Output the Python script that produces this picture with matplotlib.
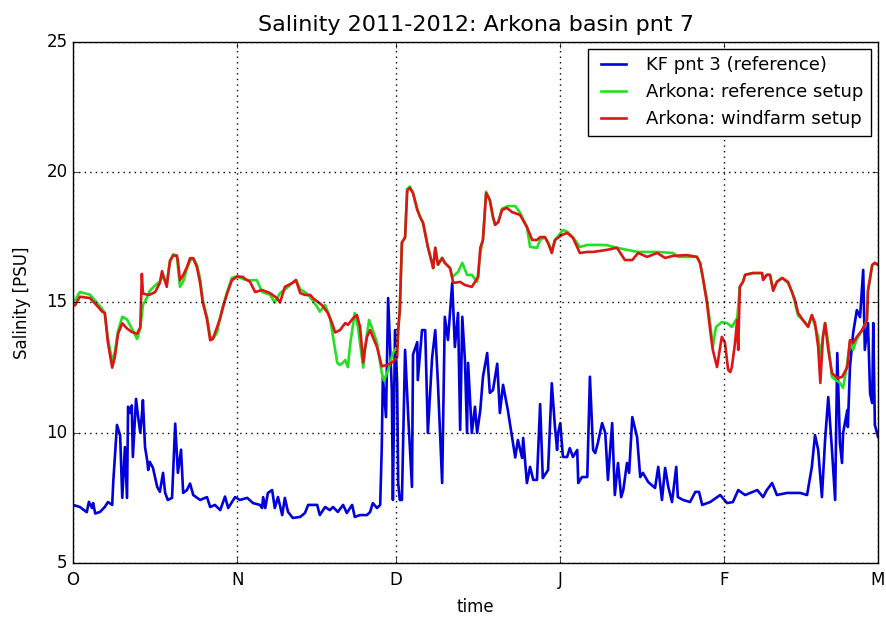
import numpy as np
import matplotlib
matplotlib.use("Agg")
import matplotlib.pyplot as plt
import matplotlib.dates as mdates
from matplotlib import ticker

plt.style.use("classic")

# days after 2011-10-01, salinity in PSU
ref_days = [0.0, 1.3, 2.6, 3.0, 3.6, 3.8, 4.2, 5.1, 6.0, 6.6, 7.4, 7.6, 8.3, 8.9, 9.3, 9.8, 10.2, 10.4, 10.8, 11.1,
            11.3, 11.9, 12.3, 12.7, 13.0, 13.2, 13.6, 14.0, 14.2, 14.5, 15.1, 15.9, 16.4, 17.0, 17.4, 17.9, 18.7, 19.3,
            19.8, 20.4, 20.8, 21.5, 22.1, 22.7, 24.0, 25.3, 25.9, 26.8, 27.8, 28.7, 29.3, 30.6, 31.5, 32.9, 34.0, 35.3,
            35.7, 35.9, 36.3, 36.8, 37.6, 38.1, 38.7, 39.5, 40.0, 40.6, 41.5, 42.9, 43.8, 44.4, 46.1, 46.6, 47.6, 48.5,
            49.1, 50.0, 51.0, 51.7, 52.7, 53.2, 54.2, 55.5, 56.1, 56.6, 57.4, 58.0, 58.3, 58.5, 59.1, 59.5, 60.2, 60.4,
            60.8, 61.2, 61.4, 61.7, 62.1, 62.7, 63.3, 64.0, 64.2, 65.0, 65.1, 65.9, 66.5, 67.0, 67.8, 68.4, 68.9, 69.7,
            70.2, 70.8, 71.6, 72.1, 72.7, 73.1, 73.5, 74.0, 74.4, 74.6, 75.3, 75.9, 76.3, 76.9, 77.4, 78.2, 78.7, 79.3,
            80.1, 80.6, 81.2, 82.1, 82.9, 83.5, 84.0, 84.8, 85.0, 85.7, 86.3, 86.9, 87.6, 88.2, 88.7, 89.7, 90.4, 91.0,
            91.4, 91.6, 92.0, 92.5, 93.3, 93.8, 94.4, 95.2, 95.4, 96.1, 97.1, 97.6, 98.2, 98.6, 99.1, 99.9, 100.5,
            101.0, 101.8, 102.3, 102.9, 103.5, 103.9, 104.6, 105.0, 105.6, 106.5, 107.1, 107.6, 108.6, 109.9, 110.5,
            111.2, 111.8, 112.4, 113.1, 113.9, 114.2, 115.2, 116.5, 117.5, 118.2, 118.8, 120.3, 122.2, 123.5, 124.6,
            125.6, 126.9, 129.2, 130.3, 131.0, 132.0, 132.9, 134.8, 137.3, 138.6, 139.5, 140.1, 140.7, 141.4, 142.0,
            142.6, 143.3, 143.9, 144.3, 144.8, 145.2, 145.4, 146.2, 146.3, 146.7, 147.3, 148.0, 148.6, 149.2, 149.5,
            150.1, 150.5, 150.9, 151.1, 151.4, 152.0]
ref_sal = [7.23, 7.15, 6.95, 7.35, 7.11, 7.3, 6.9, 6.96, 7.15, 7.34, 7.23, 8.11, 10.3, 9.9, 7.5, 9.45, 7.5, 11.0, 10.76,
           11.05, 9.07, 11.3, 10.6, 10.0, 10.68, 11.25, 9.45, 8.95, 8.57, 8.88, 8.65, 7.92, 7.73, 8.46, 7.69, 7.42, 7.5,
           10.35, 8.46, 9.35, 7.69, 7.8, 8.05, 7.61, 7.42, 7.53, 7.15, 7.23, 7.03, 7.55, 7.11, 7.53, 7.42, 7.5, 7.3,
           7.23, 7.11, 7.53, 7.11, 7.69, 7.8, 7.11, 7.53, 6.84, 7.5, 6.96, 6.73, 6.77, 6.92, 7.23, 7.23, 6.84, 7.15,
           7.03, 7.15, 6.96, 7.23, 6.92, 7.23, 6.77, 6.84, 6.84, 6.96, 7.3, 7.11, 7.23, 9.45, 12.14, 10.6, 15.17, 11.64,
           7.42, 13.94, 11.91, 8.07, 7.42, 7.42, 13.18, 10.6, 7.92, 13.0, 13.48, 12.02, 13.94, 13.94, 9.99, 12.87,
           13.94, 11.91, 8.07, 14.45, 13.56, 15.75, 13.29, 14.6, 10.11, 14.45, 12.79, 9.99, 12.68, 9.99, 11.0, 9.99,
           10.87, 12.14, 13.06, 11.53, 11.64, 12.65, 10.76, 11.84, 10.87, 9.84, 9.05, 9.72, 9.03, 9.8, 8.07, 8.69,
           8.19, 8.19, 11.1, 8.26, 8.57, 11.9, 10.22, 9.34, 9.99, 10.37, 9.07, 9.07, 9.41, 9.07, 9.34, 8.07, 8.3, 8.3,
           12.15, 9.34, 9.22, 9.61, 10.37, 9.99, 8.19, 10.37, 7.61, 8.84, 7.53, 7.8, 8.84, 8.46, 10.6, 9.84, 8.3, 8.46,
           8.11, 7.88, 8.69, 7.42, 8.65, 7.92, 7.34, 8.69, 7.53, 7.42, 7.34, 7.73, 7.73, 7.23, 7.34, 7.61, 7.3, 7.34,
           7.8, 7.61, 7.8, 7.53, 7.8, 8.07, 7.61, 7.69, 7.69, 7.61, 8.69, 9.91, 9.34, 7.53, 9.72, 11.37, 9.34, 7.42,
           13.06, 9.61, 8.84, 9.99, 10.87, 10.22, 12.52, 13.83, 14.71, 14.44, 16.25, 13.18, 14.21, 11.5, 11.14, 14.21,
           10.3, 9.84]

base_days = [0.4, 1.3, 3.2, 4.7, 5.5, 6.0, 6.6, 7.4, 7.9, 8.5, 9.3, 10.2, 11.1, 12.1, 12.7, 13.2, 14.0, 14.5, 15.5,
             16.4, 16.8, 17.7, 18.3, 18.9, 19.6, 19.8, 20.2, 20.8, 21.5, 22.1, 22.7, 23.4, 24.0, 24.5, 25.3, 25.9,
             26.4, 27.2, 27.8, 28.3, 29.1, 30.0, 31.0, 32.1, 33.4, 34.7, 35.7, 37.2, 38.1, 39.1, 40.0, 42.1, 42.9,
             43.8, 44.8, 46.1, 46.6, 47.6, 48.5, 49.1, 49.9, 50.4, 51.0, 51.4, 51.9, 52.4, 53.2, 53.8, 54.8, 55.1,
             55.9, 56.6, 57.4, 58.3, 58.7, 59.5, 60.4, 61.2, 61.4, 61.7, 62.1, 62.7, 63.1, 63.6, 64.2, 65.0, 65.5,
             66.1, 67.0, 67.8, 68.0, 68.4, 68.9, 69.7, 70.2, 71.2, 71.6, 72.7, 73.5, 74.4, 75.3, 76.3, 76.9, 77.4,
             78.0, 78.7, 79.3, 79.7, 80.3, 81.0, 82.1, 83.5, 84.4, 85.7, 86.3, 87.6, 88.2, 89.1, 89.7, 90.4, 91.0,
             92.5, 93.3, 94.4, 95.7, 97.1, 99.1, 100.8, 102.7, 104.6, 106.7, 110.3, 113.3, 114.2, 117.8, 118.4, 118.9,
             119.7, 120.3, 120.8, 121.4, 122.5, 123.5, 124.4, 125.4, 125.6, 125.9, 126.5, 126.9, 128.4, 130.1, 130.3,
             131.0, 131.6, 132.2, 132.9, 133.9, 135.0, 135.8, 136.3, 136.9, 137.8, 138.8, 139.5, 140.1, 140.7, 141.1,
             141.6, 142.0, 142.6, 143.3, 144.8, 145.4, 146.2, 146.7, 147.3, 148.0, 149.0, 149.9, 150.1, 150.9, 151.4,
             152.0]
base_sal = [15.1, 15.4, 15.3, 14.95, 14.75, 14.6, 13.6, 12.75, 13.1, 13.9, 14.45, 14.35, 14.0, 13.6, 14.0, 14.9, 15.2,
            15.45, 15.65, 15.8, 16.0, 15.75, 16.55, 16.85, 16.8, 16.4, 15.6, 15.8, 16.3, 16.6, 16.7, 16.45, 15.9, 15.1,
            14.45, 13.7, 13.6, 13.85, 14.45, 14.85, 15.4, 15.95, 16.0, 15.9, 15.85, 15.86, 15.4, 15.3, 15.0, 15.36,
            15.5, 15.86, 15.5, 15.4, 15.2, 14.83, 14.65, 14.9, 14.44, 13.68, 12.68, 12.6, 12.7, 12.79, 12.52, 13.5,
            14.6, 14.06, 12.5, 13.18, 14.33, 13.94, 13.45, 12.3, 12.0, 12.41, 13.06, 13.29, 13.94, 14.71, 17.3, 17.5,
            19.35, 19.45, 19.2, 18.6, 18.3, 18.05, 17.13, 16.5, 16.32, 17.1, 16.45, 16.71, 16.52, 16.32, 15.98, 16.17,
            16.52, 16.06, 16.06, 15.79, 16.9, 17.4, 19.25, 18.93, 18.28, 17.98, 18.09, 18.6, 18.7, 18.7, 18.45, 17.9,
            17.13, 17.1, 17.4, 17.51, 17.3, 17.0, 17.4, 17.78, 17.72, 17.5, 17.13, 17.21, 17.21, 17.2, 17.1, 17.02,
            16.94, 16.94, 16.9, 16.75, 16.75, 16.5, 15.98, 15.1, 14.21, 13.29, 14.06, 14.25, 14.21, 14.06, 14.4, 14.83,
            15.6, 15.8, 16.06, 16.13, 16.13, 15.9, 16.06, 16.06, 15.5, 15.8, 15.94, 15.75, 15.4, 15.0, 14.5, 14.33,
            14.1, 14.5, 14.1, 13.68, 12.91, 13.7, 14.21, 13.45, 12.14, 11.91, 11.72, 12.68, 13.5, 13.18, 13.6, 13.94,
            14.33, 15.45, 16.44, 16.52, 16.44]

wind_days = [0.4, 1.3, 3.2, 4.7, 5.5, 6.0, 6.6, 7.4, 7.9, 8.5, 9.3, 10.2, 11.1, 12.1, 12.7, 13.0, 13.2, 14.0, 14.5,
             15.5, 16.4, 16.8, 17.7, 18.3, 18.9, 19.6, 19.8, 20.2, 20.8, 21.5, 22.1, 22.7, 23.4, 24.0, 24.5, 25.3,
             25.9, 26.4, 27.2, 27.8, 28.3, 29.1, 30.0, 31.0, 32.1, 32.5, 33.4, 34.4, 35.7, 37.2, 38.5, 39.1, 40.0,
             41.4, 42.1, 42.9, 43.8, 44.8, 45.3, 47.0, 48.1, 48.9, 49.5, 50.4, 51.4, 51.9, 52.9, 53.6, 54.2, 54.8,
             55.1, 55.5, 56.1, 56.6, 57.4, 58.3, 59.3, 60.4, 61.2, 61.4, 61.7, 62.1, 62.7, 63.1, 63.6, 64.2, 65.0,
             65.5, 66.1, 67.0, 67.8, 68.0, 68.4, 68.9, 69.7, 70.2, 71.2, 71.8, 73.1, 74.0, 75.3, 75.9, 76.5, 76.9,
             77.4, 78.0, 78.7, 79.3, 79.7, 80.3, 81.0, 81.9, 82.9, 84.4, 85.7, 86.7, 87.6, 88.2, 89.1, 89.7, 90.4,
             91.0, 92.3, 93.3, 94.4, 95.7, 97.1, 98.2, 100.8, 102.7, 104.2, 105.6, 106.7, 108.4, 110.3, 111.8, 113.3,
             115.9, 117.8, 118.4, 118.9, 119.7, 120.3, 120.8, 121.6, 122.5, 123.1, 123.7, 124.1, 124.4, 125.0, 125.4,
             125.6, 125.9, 126.5, 126.9, 128.4, 130.1, 130.3, 131.0, 131.6, 132.2, 132.9, 133.9, 135.0, 135.8, 136.3,
             136.9, 137.8, 138.8, 139.5, 140.1, 140.7, 141.1, 141.6, 142.0, 142.6, 143.3, 144.3, 145.2, 146.2, 146.7,
             147.3, 148.0, 149.0, 149.9, 150.1, 150.9, 151.4, 152.0]
wind_sal = [14.9, 15.22, 15.17, 14.84, 14.65, 14.6, 13.45, 12.5, 12.9, 13.8, 14.2, 14.0, 13.87, 13.8, 14.05, 16.1,
            15.35, 15.3, 15.3, 15.4, 15.75, 16.2, 15.6, 16.6, 16.8, 16.8, 16.6, 15.85, 16.05, 16.35, 16.7, 16.7, 16.35,
            15.75, 15.0, 14.35, 13.55, 13.6, 14.05, 14.4, 14.8, 15.35, 15.85, 16.0, 15.98, 15.9, 15.8, 15.4, 15.48,
            15.36, 15.17, 15.0, 15.6, 15.75, 15.86, 15.36, 15.29, 15.29, 15.17, 14.9, 14.6, 14.21, 13.85, 13.94, 14.21,
            14.14, 14.4, 14.52, 14.06, 12.7, 13.18, 13.68, 13.94, 13.68, 13.29, 12.55, 12.6, 12.72, 12.91, 13.94,
            14.71, 17.3, 17.5, 19.3, 19.4, 19.2, 18.55, 18.3, 18.05, 17.13, 16.5, 16.32, 17.1, 16.45, 16.71, 16.52,
            16.32, 15.75, 15.79, 15.67, 15.6, 15.79, 15.98, 17.1, 17.4, 19.2, 18.93, 18.28, 17.98, 18.09, 18.55,
            18.63, 18.47, 18.36, 17.9, 17.4, 17.4, 17.51, 17.51, 17.28, 16.9, 17.4, 17.59, 17.67, 17.48, 16.9, 16.94,
            16.94, 17.02, 17.1, 16.63, 16.63, 16.9, 16.75, 16.9, 16.71, 16.79, 16.82, 16.75, 16.52, 15.98, 14.98,
            13.94, 13.18, 12.52, 13.68, 13.45, 12.41, 12.33, 12.52, 13.45, 14.33, 13.18, 15.6, 15.79, 16.06, 16.13,
            16.13, 15.86, 16.06, 16.06, 15.45, 15.79, 15.94, 15.79, 15.36, 15.1, 14.6, 14.33, 14.06, 14.52, 14.21,
            13.29, 11.91, 13.68, 14.21, 13.18, 12.29, 12.1, 12.14, 12.52, 13.56, 13.45, 13.68, 13.94, 14.33, 15.45,
            16.44, 16.52, 16.44]

start = np.datetime64("2011-10-01T00:00")


def to_time(days):
    return start + (np.array(days) * 24 * 60).astype("timedelta64[m]")


fig = plt.figure(figsize=(8.87, 6.17), dpi=100, facecolor="white")
ax = fig.add_axes([0.0823, 0.0875, 0.9076, 0.8445])

ax.plot(to_time(ref_days), ref_sal, color="#0000dd", lw=1.9, label="KF pnt 3 (reference)")
ax.plot(to_time(base_days), base_sal, color="#22e022", lw=1.9, label="Arkona: reference setup")
ax.plot(to_time(wind_days), wind_sal, color="#dd1515", lw=1.9, label="Arkona: windfarm setup")

ax.set_xlim(np.datetime64("2011-10-01"), np.datetime64("2012-03-01"))
ax.set_ylim(5, 25)
ax.set_yticks([5, 10, 15, 20, 25])
ax.xaxis.set_major_locator(mdates.MonthLocator())
ax.xaxis.set_major_formatter(ticker.FuncFormatter(lambda x, pos: mdates.num2date(x).strftime("%b")[0]))
ax.grid(True, color="black", ls=":", lw=1)
ax.tick_params(labelsize=12)
ax.tick_params(axis="x", pad=6)

ax.set_title("Salinity 2011-2012: Arkona basin pnt 7", fontsize=16, pad=8)
ax.set_xlabel("time", fontsize=12, labelpad=6)
ax.set_ylabel("Salinity [PSU]", fontsize=12, labelpad=11)
ax.legend(loc="upper right", fontsize=13, frameon=True, fancybox=False, borderaxespad=0.4)

fig.savefig("out.png", dpi=100, facecolor="white")
